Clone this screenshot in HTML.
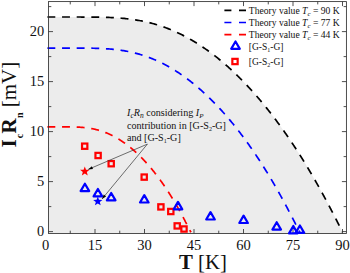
<!DOCTYPE html><html><head><meta charset="utf-8"><style>html,body{margin:0;padding:0;background:#fff;overflow:hidden}svg{display:block}text{font-family:"Liberation Serif",serif;fill:#111}</style></head><body>
<svg width="350" height="273" viewBox="0 0 350 273">
<rect width="350" height="273" fill="#fff"/>
<path d="M48.50,233.50 L48.50,17.01 L48.87,17.01 L50.34,17.01 L51.81,17.01 L53.27,17.01 L54.73,17.01 L56.19,17.01 L57.64,17.01 L59.09,17.01 L60.53,17.01 L61.97,17.01 L63.41,17.01 L64.84,17.01 L66.27,17.01 L67.70,17.01 L69.12,17.01 L70.54,17.01 L71.95,17.01 L73.36,17.01 L74.77,17.01 L76.17,17.02 L77.57,17.02 L78.97,17.02 L80.36,17.02 L81.75,17.03 L83.13,17.03 L84.52,17.04 L85.89,17.05 L87.27,17.05 L88.64,17.06 L90.01,17.07 L91.37,17.08 L92.73,17.10 L94.08,17.11 L95.43,17.13 L96.78,17.15 L98.13,17.17 L99.47,17.19 L100.81,17.22 L102.14,17.25 L103.47,17.28 L104.80,17.32 L106.12,17.36 L107.44,17.41 L108.75,17.46 L110.06,17.51 L111.37,17.57 L112.67,17.63 L113.97,17.70 L115.27,17.77 L116.56,17.85 L117.85,17.94 L119.14,18.03 L120.42,18.13 L121.70,18.23 L122.97,18.35 L124.24,18.47 L125.51,18.59 L126.77,18.73 L128.03,18.87 L129.29,19.02 L130.54,19.17 L131.79,19.34 L133.04,19.51 L134.28,19.69 L135.52,19.88 L136.75,20.08 L137.98,20.29 L139.21,20.50 L140.43,20.73 L141.65,20.96 L142.86,21.21 L144.07,21.46 L145.28,21.72 L146.49,21.99 L147.69,22.27 L148.88,22.55 L150.08,22.85 L151.27,23.16 L152.45,23.47 L153.64,23.80 L154.81,24.13 L155.99,24.47 L157.16,24.83 L158.33,25.19 L159.49,25.56 L160.65,25.94 L161.81,26.33 L162.96,26.73 L164.11,27.13 L165.26,27.55 L166.40,27.97 L167.54,28.41 L168.67,28.85 L169.80,29.30 L170.93,29.76 L172.05,30.23 L173.17,30.71 L174.29,31.19 L175.40,31.68 L176.51,32.19 L177.61,32.70 L178.71,33.22 L179.81,33.74 L180.90,34.28 L181.99,34.82 L183.08,35.37 L184.16,35.93 L185.24,36.50 L186.32,37.07 L187.39,37.65 L188.46,38.24 L189.52,38.84 L190.58,39.44 L191.64,40.05 L192.69,40.67 L193.74,41.30 L194.79,41.93 L195.83,42.57 L196.87,43.22 L197.90,43.87 L198.93,44.53 L199.96,45.20 L200.98,45.87 L202.00,46.55 L203.02,47.23 L204.03,47.93 L205.04,48.62 L206.05,49.33 L207.05,50.04 L208.05,50.75 L209.04,51.47 L210.03,52.20 L211.02,52.93 L212.00,53.67 L212.98,54.42 L213.95,55.17 L214.93,55.92 L215.89,56.68 L216.86,57.44 L217.82,58.21 L218.78,58.99 L219.73,59.77 L220.68,60.55 L221.63,61.34 L222.57,62.14 L223.51,62.93 L224.44,63.74 L225.37,64.54 L226.30,65.36 L227.23,66.17 L228.15,66.99 L229.06,67.82 L229.98,68.64 L230.89,69.48 L231.79,70.31 L232.69,71.15 L233.59,72.00 L234.49,72.84 L235.38,73.69 L236.26,74.55 L237.15,75.40 L238.03,76.26 L238.90,77.13 L239.78,78.00 L240.64,78.87 L241.51,79.74 L242.37,80.61 L243.23,81.49 L244.08,82.38 L244.93,83.26 L245.78,84.15 L246.62,85.04 L247.46,85.93 L248.30,86.82 L249.13,87.72 L249.96,88.62 L250.78,89.52 L251.60,90.43 L252.42,91.33 L253.23,92.24 L254.04,93.15 L254.85,94.06 L255.65,94.97 L256.45,95.89 L257.24,96.81 L258.04,97.72 L258.82,98.64 L259.61,99.57 L260.39,100.49 L261.16,101.41 L261.94,102.34 L262.70,103.26 L263.47,104.19 L264.23,105.12 L264.99,106.05 L265.74,106.98 L266.50,107.91 L267.24,108.85 L267.99,109.78 L268.72,110.71 L269.46,111.65 L270.19,112.58 L270.92,113.52 L271.65,114.45 L272.37,115.39 L273.09,116.32 L273.80,117.26 L274.51,118.20 L275.22,119.13 L275.92,120.07 L276.62,121.01 L277.31,121.94 L278.00,122.88 L278.69,123.81 L279.38,124.75 L280.06,125.69 L280.73,126.62 L281.41,127.55 L282.08,128.49 L282.74,129.42 L283.40,130.35 L284.06,131.28 L284.72,132.22 L285.37,133.14 L286.02,134.07 L286.66,135.00 L287.30,135.93 L287.94,136.85 L288.57,137.78 L289.20,138.70 L289.82,139.62 L290.44,140.54 L291.06,141.46 L291.68,142.38 L292.29,143.29 L292.89,144.21 L293.50,145.12 L294.10,146.03 L294.69,146.94 L295.28,147.84 L295.87,148.75 L296.46,149.65 L297.04,150.55 L297.62,151.45 L298.19,152.34 L298.76,153.24 L299.33,154.13 L299.89,155.02 L300.45,155.90 L301.00,156.79 L301.55,157.67 L302.10,158.55 L302.64,159.42 L303.19,160.30 L303.72,161.17 L304.26,162.03 L304.78,162.90 L305.31,163.76 L305.83,164.62 L306.35,165.47 L306.86,166.32 L307.38,167.17 L307.88,168.02 L308.39,168.86 L308.89,169.70 L309.38,170.53 L309.87,171.37 L310.36,172.19 L310.85,173.02 L311.33,173.84 L311.81,174.65 L312.28,175.47 L312.75,176.28 L313.22,177.08 L313.68,177.88 L314.14,178.68 L314.60,179.47 L315.05,180.26 L315.50,181.04 L315.94,181.82 L316.38,182.60 L316.82,183.37 L317.25,184.14 L317.68,184.90 L318.11,185.66 L318.53,186.41 L318.95,187.16 L319.36,187.90 L319.78,188.64 L320.18,189.38 L320.59,190.11 L320.99,190.83 L321.38,191.55 L321.78,192.26 L322.17,192.97 L322.55,193.68 L322.93,194.38 L323.31,195.07 L323.69,195.76 L324.06,196.44 L324.42,197.12 L324.79,197.79 L325.15,198.46 L325.50,199.12 L325.85,199.78 L326.20,200.43 L326.55,201.07 L326.89,201.71 L327.23,202.34 L327.56,202.97 L327.89,203.59 L328.22,204.21 L328.54,204.82 L328.86,205.42 L329.17,206.02 L329.49,206.61 L329.79,207.20 L330.10,207.78 L330.40,208.35 L330.70,208.92 L330.99,209.48 L331.28,210.03 L331.56,210.58 L331.85,211.12 L332.13,211.66 L332.40,212.19 L332.67,212.71 L332.94,213.23 L333.20,213.74 L333.46,214.24 L333.72,214.74 L333.97,215.23 L334.22,215.71 L334.47,216.19 L334.71,216.66 L334.95,217.12 L335.18,217.58 L335.41,218.03 L335.64,218.47 L335.86,218.91 L336.08,219.34 L336.30,219.76 L336.51,220.18 L336.72,220.58 L336.92,220.99 L337.12,221.38 L337.32,221.77 L337.51,222.15 L337.70,222.52 L337.89,222.89 L338.07,223.25 L338.25,223.60 L338.43,223.94 L338.60,224.28 L338.77,224.61 L338.93,224.93 L339.09,225.25 L339.25,225.56 L339.40,225.86 L339.55,226.15 L339.69,226.44 L339.84,226.72 L339.98,226.99 L340.11,227.26 L340.24,227.52 L340.37,227.77 L340.49,228.01 L340.61,228.24 L340.73,228.47 L340.84,228.69 L340.95,228.91 L341.05,229.11 L341.16,229.31 L341.25,229.50 L341.35,229.69 L341.44,229.86 L341.52,230.03 L341.61,230.19 L341.69,230.35 L341.76,230.49 L341.83,230.63 L341.90,230.77 L341.97,230.89 L342.03,231.01 L342.09,231.12 L342.14,231.22 L342.19,231.32 L342.23,231.40 L342.28,231.48 L342.32,231.56 L342.35,231.62 L342.38,231.68 L342.41,231.73 L342.43,231.78 L342.45,231.82 L342.47,231.85 L342.48,231.87 L342.49,231.89 L342.50,231.90 L342.50,231.90 L342.50,233.50 Z" fill="#ececec"/>
<path d="M47.40,17.01 L48.87,17.01 L50.34,17.01 L51.81,17.01 L53.27,17.01 L54.73,17.01 L56.19,17.01 L57.64,17.01 L59.09,17.01 L60.53,17.01 L61.97,17.01 L63.41,17.01 L64.84,17.01 L66.27,17.01 L67.70,17.01 L69.12,17.01 L70.54,17.01 L71.95,17.01 L73.36,17.01 L74.77,17.01 L76.17,17.02 L77.57,17.02 L78.97,17.02 L80.36,17.02 L81.75,17.03 L83.13,17.03 L84.52,17.04 L85.89,17.05 L87.27,17.05 L88.64,17.06 L90.01,17.07 L91.37,17.08 L92.73,17.10 L94.08,17.11 L95.43,17.13 L96.78,17.15 L98.13,17.17 L99.47,17.19 L100.81,17.22 L102.14,17.25 L103.47,17.28 L104.80,17.32 L106.12,17.36 L107.44,17.41 L108.75,17.46 L110.06,17.51 L111.37,17.57 L112.67,17.63 L113.97,17.70 L115.27,17.77 L116.56,17.85 L117.85,17.94 L119.14,18.03 L120.42,18.13 L121.70,18.23 L122.97,18.35 L124.24,18.47 L125.51,18.59 L126.77,18.73 L128.03,18.87 L129.29,19.02 L130.54,19.17 L131.79,19.34 L133.04,19.51 L134.28,19.69 L135.52,19.88 L136.75,20.08 L137.98,20.29 L139.21,20.50 L140.43,20.73 L141.65,20.96 L142.86,21.21 L144.07,21.46 L145.28,21.72 L146.49,21.99 L147.69,22.27 L148.88,22.55 L150.08,22.85 L151.27,23.16 L152.45,23.47 L153.64,23.80 L154.81,24.13 L155.99,24.47 L157.16,24.83 L158.33,25.19 L159.49,25.56 L160.65,25.94 L161.81,26.33 L162.96,26.73 L164.11,27.13 L165.26,27.55 L166.40,27.97 L167.54,28.41 L168.67,28.85 L169.80,29.30 L170.93,29.76 L172.05,30.23 L173.17,30.71 L174.29,31.19 L175.40,31.68 L176.51,32.19 L177.61,32.70 L178.71,33.22 L179.81,33.74 L180.90,34.28 L181.99,34.82 L183.08,35.37 L184.16,35.93 L185.24,36.50 L186.32,37.07 L187.39,37.65 L188.46,38.24 L189.52,38.84 L190.58,39.44 L191.64,40.05 L192.69,40.67 L193.74,41.30 L194.79,41.93 L195.83,42.57 L196.87,43.22 L197.90,43.87 L198.93,44.53 L199.96,45.20 L200.98,45.87 L202.00,46.55 L203.02,47.23 L204.03,47.93 L205.04,48.62 L206.05,49.33 L207.05,50.04 L208.05,50.75 L209.04,51.47 L210.03,52.20 L211.02,52.93 L212.00,53.67 L212.98,54.42 L213.95,55.17 L214.93,55.92 L215.89,56.68 L216.86,57.44 L217.82,58.21 L218.78,58.99 L219.73,59.77 L220.68,60.55 L221.63,61.34 L222.57,62.14 L223.51,62.93 L224.44,63.74 L225.37,64.54 L226.30,65.36 L227.23,66.17 L228.15,66.99 L229.06,67.82 L229.98,68.64 L230.89,69.48 L231.79,70.31 L232.69,71.15 L233.59,72.00 L234.49,72.84 L235.38,73.69 L236.26,74.55 L237.15,75.40 L238.03,76.26 L238.90,77.13 L239.78,78.00 L240.64,78.87 L241.51,79.74 L242.37,80.61 L243.23,81.49 L244.08,82.38 L244.93,83.26 L245.78,84.15 L246.62,85.04 L247.46,85.93 L248.30,86.82 L249.13,87.72 L249.96,88.62 L250.78,89.52 L251.60,90.43 L252.42,91.33 L253.23,92.24 L254.04,93.15 L254.85,94.06 L255.65,94.97 L256.45,95.89 L257.24,96.81 L258.04,97.72 L258.82,98.64 L259.61,99.57 L260.39,100.49 L261.16,101.41 L261.94,102.34 L262.70,103.26 L263.47,104.19 L264.23,105.12 L264.99,106.05 L265.74,106.98 L266.50,107.91 L267.24,108.85 L267.99,109.78 L268.72,110.71 L269.46,111.65 L270.19,112.58 L270.92,113.52 L271.65,114.45 L272.37,115.39 L273.09,116.32 L273.80,117.26 L274.51,118.20 L275.22,119.13 L275.92,120.07 L276.62,121.01 L277.31,121.94 L278.00,122.88 L278.69,123.81 L279.38,124.75 L280.06,125.69 L280.73,126.62 L281.41,127.55 L282.08,128.49 L282.74,129.42 L283.40,130.35 L284.06,131.28 L284.72,132.22 L285.37,133.14 L286.02,134.07 L286.66,135.00 L287.30,135.93 L287.94,136.85 L288.57,137.78 L289.20,138.70 L289.82,139.62 L290.44,140.54 L291.06,141.46 L291.68,142.38 L292.29,143.29 L292.89,144.21 L293.50,145.12 L294.10,146.03 L294.69,146.94 L295.28,147.84 L295.87,148.75 L296.46,149.65 L297.04,150.55 L297.62,151.45 L298.19,152.34 L298.76,153.24 L299.33,154.13 L299.89,155.02 L300.45,155.90 L301.00,156.79 L301.55,157.67 L302.10,158.55 L302.64,159.42 L303.19,160.30 L303.72,161.17 L304.26,162.03 L304.78,162.90 L305.31,163.76 L305.83,164.62 L306.35,165.47 L306.86,166.32 L307.38,167.17 L307.88,168.02 L308.39,168.86 L308.89,169.70 L309.38,170.53 L309.87,171.37 L310.36,172.19 L310.85,173.02 L311.33,173.84 L311.81,174.65 L312.28,175.47 L312.75,176.28 L313.22,177.08 L313.68,177.88 L314.14,178.68 L314.60,179.47 L315.05,180.26 L315.50,181.04 L315.94,181.82 L316.38,182.60 L316.82,183.37 L317.25,184.14 L317.68,184.90 L318.11,185.66 L318.53,186.41 L318.95,187.16 L319.36,187.90 L319.78,188.64 L320.18,189.38 L320.59,190.11 L320.99,190.83 L321.38,191.55 L321.78,192.26 L322.17,192.97 L322.55,193.68 L322.93,194.38 L323.31,195.07 L323.69,195.76 L324.06,196.44 L324.42,197.12 L324.79,197.79 L325.15,198.46 L325.50,199.12 L325.85,199.78 L326.20,200.43 L326.55,201.07 L326.89,201.71 L327.23,202.34 L327.56,202.97 L327.89,203.59 L328.22,204.21 L328.54,204.82 L328.86,205.42 L329.17,206.02 L329.49,206.61 L329.79,207.20 L330.10,207.78 L330.40,208.35 L330.70,208.92 L330.99,209.48 L331.28,210.03 L331.56,210.58 L331.85,211.12 L332.13,211.66 L332.40,212.19 L332.67,212.71 L332.94,213.23 L333.20,213.74 L333.46,214.24 L333.72,214.74 L333.97,215.23 L334.22,215.71 L334.47,216.19 L334.71,216.66 L334.95,217.12 L335.18,217.58 L335.41,218.03 L335.64,218.47 L335.86,218.91 L336.08,219.34 L336.30,219.76 L336.51,220.18 L336.72,220.58 L336.92,220.99 L337.12,221.38 L337.32,221.77 L337.51,222.15 L337.70,222.52 L337.89,222.89 L338.07,223.25 L338.25,223.60 L338.43,223.94 L338.60,224.28 L338.77,224.61 L338.93,224.93 L339.09,225.25 L339.25,225.56 L339.40,225.86 L339.55,226.15 L339.69,226.44 L339.84,226.72 L339.98,226.99 L340.11,227.26 L340.24,227.52 L340.37,227.77 L340.49,228.01 L340.61,228.24 L340.73,228.47 L340.84,228.69 L340.95,228.91 L341.05,229.11 L341.16,229.31 L341.25,229.50 L341.35,229.69 L341.44,229.86 L341.52,230.03 L341.61,230.19 L341.69,230.35 L341.76,230.49 L341.83,230.63 L341.90,230.77 L341.97,230.89 L342.03,231.01 L342.09,231.12 L342.14,231.22 L342.19,231.32 L342.23,231.40 L342.28,231.48 L342.32,231.56 L342.35,231.62 L342.38,231.68 L342.41,231.73 L342.43,231.78 L342.45,231.82 L342.47,231.85 L342.48,231.87 L342.49,231.89 L342.50,231.90 L342.50,231.90" fill="none" stroke="#000" stroke-width="1.7" stroke-dasharray="7.9 6.74" stroke-dashoffset="0"/>
<path d="M47.40,48.05 L48.66,48.05 L49.92,48.05 L51.17,48.05 L52.42,48.05 L53.67,48.05 L54.91,48.05 L56.15,48.05 L57.39,48.05 L58.62,48.05 L59.85,48.05 L61.08,48.05 L62.31,48.05 L63.53,48.05 L64.75,48.05 L65.96,48.05 L67.17,48.05 L68.38,48.05 L69.59,48.05 L70.79,48.05 L71.99,48.06 L73.19,48.06 L74.38,48.06 L75.57,48.06 L76.76,48.07 L77.94,48.07 L79.12,48.08 L80.30,48.08 L81.47,48.09 L82.64,48.10 L83.81,48.10 L84.98,48.11 L86.14,48.13 L87.30,48.14 L88.45,48.15 L89.60,48.17 L90.75,48.19 L91.90,48.21 L93.04,48.23 L94.18,48.26 L95.32,48.29 L96.45,48.32 L97.58,48.36 L98.71,48.40 L99.83,48.44 L100.95,48.49 L102.07,48.54 L103.19,48.59 L104.30,48.65 L105.40,48.72 L106.51,48.78 L107.61,48.86 L108.71,48.94 L109.81,49.02 L110.90,49.12 L111.99,49.21 L113.07,49.32 L114.16,49.42 L115.24,49.54 L116.31,49.66 L117.39,49.79 L118.46,49.93 L119.52,50.07 L120.59,50.22 L121.65,50.37 L122.71,50.54 L123.76,50.71 L124.81,50.89 L125.86,51.07 L126.90,51.27 L127.95,51.47 L128.99,51.68 L130.02,51.89 L131.05,52.12 L132.08,52.35 L133.11,52.59 L134.13,52.84 L135.15,53.09 L136.17,53.36 L137.18,53.63 L138.19,53.91 L139.20,54.19 L140.20,54.49 L141.20,54.79 L142.20,55.10 L143.20,55.42 L144.19,55.74 L145.18,56.08 L146.16,56.42 L147.14,56.77 L148.12,57.13 L149.10,57.49 L150.07,57.86 L151.04,58.24 L152.01,58.63 L152.97,59.02 L153.93,59.43 L154.89,59.83 L155.84,60.25 L156.79,60.67 L157.74,61.11 L158.68,61.54 L159.62,61.99 L160.56,62.44 L161.50,62.90 L162.43,63.36 L163.36,63.84 L164.28,64.31 L165.20,64.80 L166.12,65.29 L167.04,65.79 L167.95,66.30 L168.86,66.81 L169.77,67.32 L170.67,67.85 L171.57,68.38 L172.47,68.91 L173.36,69.46 L174.25,70.00 L175.14,70.56 L176.02,71.12 L176.90,71.68 L177.78,72.25 L178.66,72.83 L179.53,73.41 L180.40,74.00 L181.26,74.59 L182.12,75.19 L182.98,75.79 L183.84,76.40 L184.69,77.01 L185.54,77.63 L186.39,78.25 L187.23,78.88 L188.07,79.51 L188.91,80.14 L189.74,80.79 L190.57,81.43 L191.40,82.08 L192.22,82.74 L193.05,83.40 L193.86,84.06 L194.68,84.73 L195.49,85.40 L196.30,86.07 L197.10,86.75 L197.91,87.44 L198.71,88.12 L199.50,88.81 L200.29,89.51 L201.08,90.21 L201.87,90.91 L202.65,91.61 L203.43,92.32 L204.21,93.03 L204.99,93.75 L205.76,94.47 L206.52,95.19 L207.29,95.91 L208.05,96.64 L208.81,97.37 L209.56,98.10 L210.31,98.84 L211.06,99.58 L211.81,100.32 L212.55,101.07 L213.29,101.81 L214.03,102.56 L214.76,103.31 L215.49,104.07 L216.22,104.82 L216.94,105.58 L217.66,106.34 L218.38,107.11 L219.09,107.87 L219.80,108.64 L220.51,109.41 L221.21,110.18 L221.92,110.95 L222.61,111.73 L223.31,112.51 L224.00,113.28 L224.69,114.06 L225.38,114.84 L226.06,115.63 L226.74,116.41 L227.41,117.20 L228.09,117.98 L228.76,118.77 L229.42,119.56 L230.09,120.35 L230.75,121.14 L231.41,121.93 L232.06,122.73 L232.71,123.52 L233.36,124.32 L234.00,125.11 L234.64,125.91 L235.28,126.71 L235.92,127.51 L236.55,128.30 L237.18,129.10 L237.80,129.90 L238.43,130.70 L239.05,131.50 L239.66,132.30 L240.28,133.10 L240.89,133.90 L241.49,134.70 L242.10,135.51 L242.70,136.31 L243.29,137.11 L243.89,137.91 L244.48,138.71 L245.07,139.51 L245.65,140.31 L246.23,141.11 L246.81,141.91 L247.39,142.71 L247.96,143.50 L248.53,144.30 L249.10,145.10 L249.66,145.90 L250.22,146.69 L250.77,147.49 L251.33,148.28 L251.88,149.07 L252.42,149.86 L252.97,150.66 L253.51,151.45 L254.05,152.24 L254.58,153.02 L255.11,153.81 L255.64,154.60 L256.16,155.38 L256.69,156.16 L257.21,156.94 L257.72,157.72 L258.23,158.50 L258.74,159.28 L259.25,160.05 L259.75,160.83 L260.25,161.60 L260.75,162.37 L261.24,163.13 L261.73,163.90 L262.22,164.66 L262.70,165.43 L263.18,166.19 L263.66,166.94 L264.13,167.70 L264.61,168.45 L265.07,169.20 L265.54,169.95 L266.00,170.70 L266.46,171.44 L266.91,172.18 L267.37,172.92 L267.82,173.66 L268.26,174.39 L268.71,175.12 L269.15,175.85 L269.58,176.58 L270.02,177.30 L270.45,178.02 L270.87,178.74 L271.30,179.45 L271.72,180.16 L272.14,180.87 L272.55,181.57 L272.96,182.27 L273.37,182.97 L273.77,183.67 L274.18,184.36 L274.58,185.05 L274.97,185.73 L275.36,186.41 L275.75,187.09 L276.14,187.76 L276.52,188.43 L276.90,189.10 L277.28,189.76 L277.65,190.42 L278.02,191.08 L278.39,191.73 L278.75,192.38 L279.12,193.02 L279.47,193.66 L279.83,194.30 L280.18,194.93 L280.53,195.56 L280.87,196.18 L281.21,196.80 L281.55,197.41 L281.89,198.02 L282.22,198.63 L282.55,199.23 L282.88,199.83 L283.20,200.42 L283.52,201.01 L283.84,201.59 L284.15,202.17 L284.46,202.75 L284.77,203.32 L285.07,203.88 L285.37,204.44 L285.67,205.00 L285.97,205.55 L286.26,206.10 L286.55,206.64 L286.83,207.18 L287.11,207.71 L287.39,208.23 L287.67,208.75 L287.94,209.27 L288.21,209.78 L288.48,210.29 L288.74,210.79 L289.00,211.28 L289.26,211.77 L289.51,212.26 L289.76,212.74 L290.01,213.21 L290.25,213.68 L290.50,214.14 L290.73,214.60 L290.97,215.05 L291.20,215.50 L291.43,215.94 L291.65,216.38 L291.88,216.81 L292.10,217.23 L292.31,217.65 L292.52,218.07 L292.73,218.47 L292.94,218.88 L293.14,219.27 L293.34,219.66 L293.54,220.05 L293.73,220.42 L293.93,220.80 L294.11,221.16 L294.30,221.53 L294.48,221.88 L294.66,222.23 L294.83,222.57 L295.00,222.91 L295.17,223.24 L295.34,223.57 L295.50,223.88 L295.66,224.20 L295.82,224.50 L295.97,224.81 L296.12,225.10 L296.26,225.39 L296.41,225.67 L296.55,225.95 L296.69,226.22 L296.82,226.48 L296.95,226.74 L297.08,226.99 L297.20,227.24 L297.32,227.47 L297.44,227.71 L297.56,227.93 L297.67,228.15 L297.78,228.37 L297.88,228.57 L297.99,228.78 L298.09,228.97 L298.18,229.16 L298.27,229.34 L298.36,229.52 L298.45,229.69 L298.53,229.85 L298.61,230.01 L298.69,230.16 L298.77,230.30 L298.84,230.44 L298.90,230.57 L298.97,230.70 L299.03,230.82 L299.09,230.93 L299.14,231.04 L299.20,231.14 L299.25,231.23 L299.29,231.32 L299.33,231.40 L299.37,231.48 L299.41,231.54 L299.44,231.61 L299.47,231.66 L299.50,231.71 L299.52,231.76 L299.54,231.80 L299.56,231.83 L299.57,231.85 L299.59,231.87 L299.59,231.89 L299.60,231.90 L299.60,231.90" fill="none" stroke="#0000ff" stroke-width="1.7" stroke-dasharray="7.9 6.74" stroke-dashoffset="0"/>
<path d="M47.40,126.84 L48.12,126.84 L48.83,126.84 L49.54,126.84 L50.25,126.84 L50.96,126.84 L51.67,126.84 L52.37,126.84 L53.07,126.84 L53.78,126.84 L54.48,126.84 L55.17,126.84 L55.87,126.84 L56.56,126.84 L57.26,126.84 L57.95,126.84 L58.63,126.84 L59.32,126.84 L60.01,126.85 L60.69,126.85 L61.37,126.85 L62.05,126.85 L62.73,126.85 L63.41,126.85 L64.08,126.85 L64.75,126.86 L65.42,126.86 L66.09,126.86 L66.76,126.87 L67.43,126.87 L68.09,126.88 L68.75,126.89 L69.41,126.89 L70.07,126.90 L70.73,126.91 L71.38,126.92 L72.03,126.94 L72.68,126.95 L73.33,126.96 L73.98,126.98 L74.63,127.00 L75.27,127.02 L75.91,127.04 L76.55,127.07 L77.19,127.09 L77.83,127.12 L78.46,127.15 L79.10,127.19 L79.73,127.22 L80.36,127.26 L80.99,127.30 L81.61,127.35 L82.24,127.40 L82.86,127.45 L83.48,127.51 L84.10,127.56 L84.72,127.63 L85.33,127.69 L85.94,127.76 L86.56,127.83 L87.17,127.91 L87.77,127.99 L88.38,128.08 L88.98,128.17 L89.59,128.26 L90.19,128.36 L90.79,128.46 L91.39,128.56 L91.98,128.67 L92.57,128.79 L93.17,128.91 L93.76,129.03 L94.35,129.16 L94.93,129.29 L95.52,129.43 L96.10,129.57 L96.68,129.71 L97.26,129.86 L97.84,130.02 L98.41,130.17 L98.99,130.34 L99.56,130.50 L100.13,130.68 L100.70,130.85 L101.27,131.03 L101.83,131.22 L102.39,131.41 L102.96,131.60 L103.52,131.80 L104.07,132.00 L104.63,132.21 L105.18,132.42 L105.74,132.64 L106.29,132.86 L106.84,133.08 L107.38,133.31 L107.93,133.54 L108.47,133.78 L109.02,134.02 L109.56,134.27 L110.09,134.51 L110.63,134.77 L111.16,135.02 L111.70,135.29 L112.23,135.55 L112.76,135.82 L113.29,136.09 L113.81,136.37 L114.34,136.65 L114.86,136.93 L115.38,137.22 L115.90,137.51 L116.41,137.80 L116.93,138.10 L117.44,138.40 L117.95,138.71 L118.46,139.01 L118.97,139.32 L119.48,139.64 L119.98,139.96 L120.48,140.28 L120.98,140.60 L121.48,140.93 L121.98,141.26 L122.47,141.60 L122.97,141.93 L123.46,142.27 L123.95,142.61 L124.44,142.96 L124.92,143.31 L125.41,143.66 L125.89,144.01 L126.37,144.37 L126.85,144.73 L127.33,145.09 L127.80,145.46 L128.28,145.82 L128.75,146.19 L129.22,146.57 L129.69,146.94 L130.16,147.32 L130.62,147.70 L131.08,148.08 L131.54,148.46 L132.00,148.85 L132.46,149.24 L132.92,149.63 L133.37,150.02 L133.82,150.42 L134.27,150.82 L134.72,151.22 L135.17,151.62 L135.62,152.02 L136.06,152.42 L136.50,152.83 L136.94,153.24 L137.38,153.65 L137.81,154.06 L138.25,154.48 L138.68,154.89 L139.11,155.31 L139.54,155.73 L139.97,156.15 L140.39,156.57 L140.82,157.00 L141.24,157.42 L141.66,157.85 L142.08,158.28 L142.49,158.71 L142.91,159.14 L143.32,159.57 L143.73,160.00 L144.14,160.44 L144.55,160.87 L144.96,161.31 L145.36,161.75 L145.76,162.18 L146.16,162.62 L146.56,163.07 L146.96,163.51 L147.35,163.95 L147.74,164.39 L148.14,164.84 L148.53,165.29 L148.91,165.73 L149.30,166.18 L149.68,166.63 L150.07,167.08 L150.45,167.53 L150.83,167.98 L151.20,168.43 L151.58,168.88 L151.95,169.33 L152.32,169.78 L152.69,170.23 L153.06,170.69 L153.43,171.14 L153.79,171.60 L154.15,172.05 L154.52,172.51 L154.88,172.96 L155.23,173.42 L155.59,173.87 L155.94,174.33 L156.29,174.78 L156.64,175.24 L156.99,175.70 L157.34,176.15 L157.68,176.61 L158.03,177.06 L158.37,177.52 L158.71,177.98 L159.05,178.43 L159.38,178.89 L159.71,179.35 L160.05,179.80 L160.38,180.26 L160.71,180.71 L161.03,181.17 L161.36,181.62 L161.68,182.08 L162.00,182.53 L162.32,182.98 L162.64,183.44 L162.96,183.89 L163.27,184.34 L163.58,184.79 L163.89,185.24 L164.20,185.69 L164.51,186.14 L164.82,186.59 L165.12,187.04 L165.42,187.49 L165.72,187.94 L166.02,188.38 L166.32,188.83 L166.61,189.27 L166.90,189.72 L167.20,190.16 L167.48,190.60 L167.77,191.04 L168.06,191.48 L168.34,191.92 L168.62,192.36 L168.90,192.80 L169.18,193.23 L169.46,193.67 L169.73,194.10 L170.01,194.54 L170.28,194.97 L170.55,195.40 L170.82,195.83 L171.08,196.25 L171.35,196.68 L171.61,197.10 L171.87,197.53 L172.13,197.95 L172.39,198.37 L172.64,198.79 L172.89,199.21 L173.15,199.62 L173.40,200.04 L173.64,200.45 L173.89,200.86 L174.13,201.27 L174.38,201.68 L174.62,202.08 L174.86,202.49 L175.09,202.89 L175.33,203.29 L175.56,203.69 L175.80,204.09 L176.03,204.48 L176.25,204.87 L176.48,205.27 L176.71,205.66 L176.93,206.04 L177.15,206.43 L177.37,206.81 L177.59,207.19 L177.80,207.57 L178.02,207.95 L178.23,208.32 L178.44,208.70 L178.65,209.07 L178.86,209.44 L179.06,209.80 L179.26,210.17 L179.47,210.53 L179.67,210.89 L179.86,211.24 L180.06,211.60 L180.25,211.95 L180.45,212.30 L180.64,212.65 L180.83,212.99 L181.01,213.33 L181.20,213.67 L181.38,214.01 L181.56,214.34 L181.74,214.68 L181.92,215.01 L182.10,215.33 L182.27,215.66 L182.45,215.98 L182.62,216.30 L182.79,216.61 L182.95,216.93 L183.12,217.24 L183.28,217.54 L183.45,217.85 L183.61,218.15 L183.76,218.45 L183.92,218.75 L184.08,219.04 L184.23,219.33 L184.38,219.62 L184.53,219.90 L184.68,220.18 L184.82,220.46 L184.97,220.74 L185.11,221.01 L185.25,221.28 L185.39,221.55 L185.53,221.81 L185.66,222.07 L185.80,222.33 L185.93,222.58 L186.06,222.83 L186.19,223.08 L186.31,223.32 L186.44,223.57 L186.56,223.80 L186.68,224.04 L186.80,224.27 L186.92,224.50 L187.03,224.72 L187.15,224.95 L187.26,225.16 L187.37,225.38 L187.48,225.59 L187.58,225.80 L187.69,226.01 L187.79,226.21 L187.89,226.41 L187.99,226.60 L188.09,226.79 L188.18,226.98 L188.28,227.16 L188.37,227.35 L188.46,227.52 L188.55,227.70 L188.64,227.87 L188.72,228.04 L188.80,228.20 L188.89,228.36 L188.97,228.52 L189.04,228.67 L189.12,228.82 L189.19,228.97 L189.27,229.11 L189.34,229.25 L189.41,229.39 L189.47,229.52 L189.54,229.65 L189.60,229.77 L189.66,229.89 L189.72,230.01 L189.78,230.12 L189.84,230.24 L189.89,230.34 L189.95,230.45 L190.00,230.55 L190.05,230.64 L190.09,230.74 L190.14,230.83 L190.18,230.91 L190.23,230.99 L190.27,231.07 L190.31,231.15 L190.34,231.22 L190.38,231.29 L190.41,231.35 L190.44,231.41 L190.47,231.47 L190.50,231.52 L190.52,231.57 L190.55,231.62 L190.57,231.66 L190.59,231.70 L190.61,231.73 L190.63,231.77 L190.64,231.79 L190.66,231.82 L190.67,231.84 L190.68,231.86 L190.69,231.87 L190.69,231.89 L190.70,231.89 L190.70,231.90 L190.70,231.90" fill="none" stroke="#ff0000" stroke-width="1.7" stroke-dasharray="7.9 6.74" stroke-dashoffset="0"/>
<rect x="48.50" y="1.60" width="297.90" height="231.90" fill="none" stroke="#303030" stroke-width="0.85"/>
<path d="M70.25,233.50 v-2.80 M70.25,1.60 v2.80 M95.00,233.50 v-4.50 M95.00,1.60 v4.50 M119.75,233.50 v-2.80 M119.75,1.60 v2.80 M144.50,233.50 v-4.50 M144.50,1.60 v4.50 M169.25,233.50 v-2.80 M169.25,1.60 v2.80 M194.00,233.50 v-4.50 M194.00,1.60 v4.50 M218.75,233.50 v-2.80 M218.75,1.60 v2.80 M243.50,233.50 v-4.50 M243.50,1.60 v4.50 M268.25,233.50 v-2.80 M268.25,1.60 v2.80 M293.00,233.50 v-4.50 M293.00,1.60 v4.50 M317.75,233.50 v-2.80 M317.75,1.60 v2.80 M342.50,233.50 v-4.50 M342.50,1.60 v4.50 M48.50,231.60 h4.50 M346.40,231.60 h-4.50 M48.50,206.60 h2.80 M346.40,206.60 h-2.80 M48.50,181.60 h4.50 M346.40,181.60 h-4.50 M48.50,156.60 h2.80 M346.40,156.60 h-2.80 M48.50,131.60 h4.50 M346.40,131.60 h-4.50 M48.50,106.60 h2.80 M346.40,106.60 h-2.80 M48.50,81.60 h4.50 M346.40,81.60 h-4.50 M48.50,56.60 h2.80 M346.40,56.60 h-2.80 M48.50,31.60 h4.50 M346.40,31.60 h-4.50 M48.50,6.60 h2.80 M346.40,6.60 h-2.80" stroke="#303030" stroke-width="0.85" fill="none"/>
<text x="45.50" y="249.6" font-size="14.5" text-anchor="middle">0</text>
<text x="95.00" y="249.6" font-size="14.5" text-anchor="middle">15</text>
<text x="144.50" y="249.6" font-size="14.5" text-anchor="middle">30</text>
<text x="194.00" y="249.6" font-size="14.5" text-anchor="middle">45</text>
<text x="243.50" y="249.6" font-size="14.5" text-anchor="middle">60</text>
<text x="293.00" y="249.6" font-size="14.5" text-anchor="middle">75</text>
<text x="342.50" y="249.6" font-size="14.5" text-anchor="middle">90</text>
<text x="44.2" y="235.80" font-size="14.4" text-anchor="end">0</text>
<text x="44.2" y="185.80" font-size="14.4" text-anchor="end">5</text>
<text x="44.2" y="135.80" font-size="14.4" text-anchor="end">10</text>
<text x="44.2" y="85.80" font-size="14.4" text-anchor="end">15</text>
<text x="44.2" y="35.80" font-size="14.4" text-anchor="end">20</text>
<text x="178.9" y="268.5" font-size="20.8"><tspan font-weight="bold">T</tspan> [K]</text>
<text transform="translate(16,147.4) rotate(-90)" font-size="20.9"><tspan font-weight="bold">I</tspan><tspan font-weight="bold" font-size="10" dy="7" dx="1">c</tspan><tspan font-weight="bold" dy="-7" dx="0.3">R</tspan><tspan font-weight="bold" font-size="10" dy="7" dx="0.5">n</tspan><tspan dy="-7"> [mV]</tspan></text>
<rect x="82.05" y="143.55" width="5.3" height="5.3" fill="none" stroke="#ff0000" stroke-width="2.2"/>
<rect x="95.45" y="152.85" width="5.3" height="5.3" fill="none" stroke="#ff0000" stroke-width="2.2"/>
<rect x="108.55" y="161.05" width="5.3" height="5.3" fill="none" stroke="#ff0000" stroke-width="2.2"/>
<rect x="141.55" y="174.45" width="5.3" height="5.3" fill="none" stroke="#ff0000" stroke-width="2.2"/>
<rect x="158.25" y="204.25" width="5.3" height="5.3" fill="none" stroke="#ff0000" stroke-width="2.2"/>
<rect x="168.15" y="208.85" width="5.3" height="5.3" fill="none" stroke="#ff0000" stroke-width="2.2"/>
<rect x="174.55" y="223.25" width="5.3" height="5.3" fill="none" stroke="#ff0000" stroke-width="2.2"/>
<rect x="181.35" y="226.35" width="5.3" height="5.3" fill="none" stroke="#ff0000" stroke-width="2.2"/>
<path d="M84.90,183.70 L89.20,191.10 L80.60,191.10 Z" fill="none" stroke="#0000ff" stroke-width="2.2" stroke-linejoin="round"/>
<path d="M97.90,189.00 L102.20,196.40 L93.60,196.40 Z" fill="none" stroke="#0000ff" stroke-width="2.2" stroke-linejoin="round"/>
<path d="M111.20,193.00 L115.50,200.40 L106.90,200.40 Z" fill="none" stroke="#0000ff" stroke-width="2.2" stroke-linejoin="round"/>
<path d="M144.30,195.10 L148.60,202.50 L140.00,202.50 Z" fill="none" stroke="#0000ff" stroke-width="2.2" stroke-linejoin="round"/>
<path d="M178.00,201.90 L182.30,209.30 L173.70,209.30 Z" fill="none" stroke="#0000ff" stroke-width="2.2" stroke-linejoin="round"/>
<path d="M210.50,212.10 L214.80,219.50 L206.20,219.50 Z" fill="none" stroke="#0000ff" stroke-width="2.2" stroke-linejoin="round"/>
<path d="M243.60,215.60 L247.90,223.00 L239.30,223.00 Z" fill="none" stroke="#0000ff" stroke-width="2.2" stroke-linejoin="round"/>
<path d="M276.70,222.20 L281.00,229.60 L272.40,229.60 Z" fill="none" stroke="#0000ff" stroke-width="2.2" stroke-linejoin="round"/>
<path d="M293.30,226.00 L297.60,233.40 L289.00,233.40 Z" fill="none" stroke="#0000ff" stroke-width="2.2" stroke-linejoin="round"/>
<path d="M299.90,225.50 L304.20,232.90 L295.60,232.90 Z" fill="none" stroke="#0000ff" stroke-width="2.2" stroke-linejoin="round"/>
<polygon points="84.80,166.40 86.03,169.70 89.56,169.85 86.80,172.05 87.74,175.45 84.80,173.50 81.86,175.45 82.80,172.05 80.04,169.85 83.57,169.70" fill="#ff0000"/>
<polygon points="97.80,196.50 99.01,199.74 102.46,199.89 99.76,202.04 100.68,205.36 97.80,203.46 94.92,205.36 95.84,202.04 93.14,199.89 96.59,199.74" fill="#0000ff"/>
<line x1="147.40" y1="144.10" x2="88.20" y2="169.40" stroke="#333" stroke-width="0.7"/>
<polygon points="88.20,169.40 91.84,166.21 93.02,168.97" fill="#000"/>
<line x1="147.40" y1="144.10" x2="102.00" y2="199.00" stroke="#333" stroke-width="0.7"/>
<polygon points="102.00,199.00 103.78,194.50 106.09,196.41" fill="#000"/>
<text x="127" y="116.0" font-size="10.1"><tspan font-style="italic">I</tspan><tspan font-style="italic" font-size="7.5" dy="1.8">c</tspan><tspan font-style="italic" dy="-1.8">R</tspan><tspan font-style="italic" font-size="7.5" dy="1.8">n</tspan><tspan dy="-1.8"> considering </tspan><tspan font-style="italic">I</tspan><tspan font-style="italic" font-size="7" dy="1.8">P</tspan></text>
<text x="127" y="128.5" font-size="10.1">contribution in [G-S<tspan font-size="6" dy="2">2</tspan><tspan dy="-2">-G]</tspan></text>
<text x="127" y="141.1" font-size="10.1">and [G-S<tspan font-size="6" dy="2">1</tspan><tspan dy="-2">-G]</tspan></text>
<path d="M224.4,10.40 H231.4 M239,10.40 H246" stroke="#000" stroke-width="1.6" fill="none"/>
<text x="248.8" y="13.60" font-size="9.6">Theory value <tspan font-style="italic">T</tspan><tspan font-style="italic" font-size="7" dy="2">c</tspan><tspan dy="-2"> = 90 K</tspan></text>
<path d="M224.4,22.50 H231.4 M239,22.50 H246" stroke="#0000ff" stroke-width="1.6" fill="none"/>
<text x="248.8" y="25.70" font-size="9.6">Theory value <tspan font-style="italic">T</tspan><tspan font-style="italic" font-size="7" dy="2">c</tspan><tspan dy="-2"> = 77 K</tspan></text>
<path d="M224.4,34.60 H231.4 M239,34.60 H246" stroke="#ff0000" stroke-width="1.6" fill="none"/>
<text x="248.8" y="37.80" font-size="9.6">Theory value <tspan font-style="italic">T</tspan><tspan font-style="italic" font-size="7" dy="2">c</tspan><tspan dy="-2"> = 44 K</tspan></text>
<path d="M235.50,41.45 L239.80,48.85 L231.20,48.85 Z" fill="none" stroke="#0000ff" stroke-width="2.2" stroke-linejoin="round"/>
<rect x="232.35" y="58.85" width="5.3" height="5.3" fill="none" stroke="#ff0000" stroke-width="2.2"/>
<text x="248.8" y="49.5" font-size="9.5">[G-S<tspan font-size="6" dy="2.2">1</tspan><tspan dy="-2.2">-G]</tspan></text>
<text x="248.8" y="64.9" font-size="9.5">[G-S<tspan font-size="6" dy="2.2">2</tspan><tspan dy="-2.2">-G]</tspan></text>
</svg></body></html>
